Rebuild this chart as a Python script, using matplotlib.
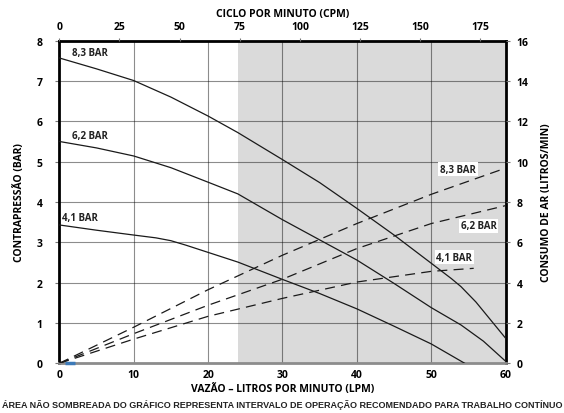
import numpy as np
import matplotlib
matplotlib.use("Agg")
import matplotlib.pyplot as plt

plt.rcParams['font.family'] = ['Open Sans', 'DejaVu Sans']
plt.rcParams['font.weight'] = 'bold'

# back pressure curves (LPM, bar)
lpm_83 = [0, 5, 10, 15, 20, 24, 30, 35, 40, 45, 50, 52.7, 54, 56, 60]
bar_83 = [7.57, 7.30, 7.01, 6.60, 6.13, 5.72, 5.05, 4.48, 3.84, 3.18, 2.48, 2.10, 1.90, 1.52, 0.62]

lpm_62 = [0, 5, 10, 15, 20, 24, 27, 30, 35, 40, 45, 50, 54, 57, 60]
bar_62 = [5.50, 5.34, 5.14, 4.85, 4.49, 4.20, 3.88, 3.56, 3.06, 2.56, 1.98, 1.38, 0.95, 0.55, 0.05]

lpm_41 = [0, 5, 10, 13, 15, 17, 20, 24, 30, 35, 40, 45, 50, 54.5]
bar_41 = [3.43, 3.30, 3.18, 3.11, 3.04, 2.93, 2.75, 2.51, 2.08, 1.73, 1.35, 0.92, 0.48, 0.0]

# air consumption (LPM, litros/min)
air_x = [0, 10, 20, 30, 40, 50, 60]
air_83 = [0, 1.79, 3.65, 5.36, 6.93, 8.38, 9.68]
air_62 = [0, 1.47, 2.88, 4.17, 5.69, 6.93, 7.82]
air_x41 = [0, 10, 20, 30, 40, 50, 55.7]
air_41 = [0, 1.2, 2.33, 3.22, 4.03, 4.56, 4.71]

labels = ['8,3 BAR', '6,2 BAR', '4,1 BAR']
shade_start = 24
lpm_max = 60
cpm_max = 185.5

fig = plt.figure(figsize=(5.64, 4.14), dpi=100)
ax = fig.add_axes([0.1051, 0.12, 0.7915, 0.7795])

ax.axvspan(shade_start, lpm_max, color='#dadada', zorder=0, lw=0)
for v in range(10, 60, 10):
    ax.axvline(v, color='black', alpha=0.45, lw=0.8, zorder=1)
for h in range(1, 8):
    ax.axhline(h, color='black', alpha=0.45, lw=0.8, zorder=1)

for xs, ys in [(lpm_83, bar_83), (lpm_62, bar_62), (lpm_41, bar_41)]:
    ax.plot(xs, ys, color='#1a1a1a', lw=0.9, zorder=3)

ax.set_xlim(0, lpm_max)
ax.set_ylim(0, 8)
ax.set_xticks(range(0, 61, 10))
ax.set_yticks(range(0, 9))
ax.tick_params(axis='y', labelsize=7.5, length=3, color='#777777', width=0.8, pad=9)
ax.tick_params(axis='x', labelsize=7.5, length=0, pad=4)
ax.set_xlabel('VAZÃO – LITROS POR MINUTO (LPM)', fontsize=7.5, fontweight='bold', labelpad=2)
ax.set_ylabel('CONTRAPRESSÃO (BAR)', fontsize=7.5, fontweight='bold', labelpad=8)

# small blue mark at origin
ax.plot([0.8, 2.1], [0, 0], color='#3d7ab8', lw=2.5, zorder=6, solid_capstyle='butt', clip_on=False)

for s in ['top', 'left', 'right']:
    ax.spines[s].set_color('black')
    ax.spines[s].set_linewidth(2)
ax.spines['bottom'].set_color('#8c8c8c')
ax.spines['bottom'].set_linewidth(2)

ax.text(1.7, 7.71, labels[0], fontsize=7, fontweight='bold', va='center', color='#222222')
ax.text(1.7, 5.64, labels[1], fontsize=7, fontweight='bold', va='center', color='#222222')
ax.text(0.4, 3.62, labels[2], fontsize=7, fontweight='bold', va='center', color='#222222')

# right axis: air consumption
axr = ax.twinx()
axr.set_ylim(0, 16)
axr.set_yticks(range(0, 17, 2))
axr.tick_params(labelsize=7.5, length=3, color='#777777', width=0.8, pad=5)
axr.set_ylabel('CONSUMO DE AR (LITROS/MIN)', fontsize=7.5, fontweight='bold', labelpad=9,
               rotation=90)
for s in axr.spines.values():
    s.set_visible(False)

for xs, ys in [(air_x, air_83), (air_x, air_62), (air_x41, air_41)]:
    axr.plot(xs, ys, color='#1a1a1a', lw=0.9, dashes=(8, 5), zorder=3)

box = dict(facecolor='white', edgecolor='none', pad=1.2)
axr.text(53.6, 9.62, labels[0], fontsize=7, fontweight='bold', ha='center', va='center',
         color='#222222', bbox=box, zorder=5)
axr.text(56.4, 6.82, labels[1], fontsize=7, fontweight='bold', ha='center', va='center',
         color='#222222', bbox=box, zorder=5)
axr.text(53.1, 5.26, labels[2], fontsize=7, fontweight='bold', ha='center', va='center',
         color='#222222', bbox=box, zorder=5)

# top axis: cycles per minute
axt = ax.twiny()
axt.set_xlim(0, cpm_max)
axt.set_xticks(range(0, 176, 25))
axt.tick_params(labelsize=7.5, length=2, color='#777777', width=0.8, pad=4)
axt.set_xlabel('CICLO POR MINUTO (CPM)', fontsize=7.5, fontweight='bold', labelpad=4)
for s in axt.spines.values():
    s.set_visible(False)

fig.text(0.5, 0.022,
         'ÁREA NÃO SOMBREADA DO GRÁFICO REPRESENTA INTERVALO DE OPERAÇÃO RECOMENDADO PARA TRABALHO CONTÍNUO',
         ha='center', va='center', fontsize=6.5, fontweight='bold',
         family=['Liberation Sans', 'DejaVu Sans'], color='#222222')

fig.savefig('out.png', dpi=100)
